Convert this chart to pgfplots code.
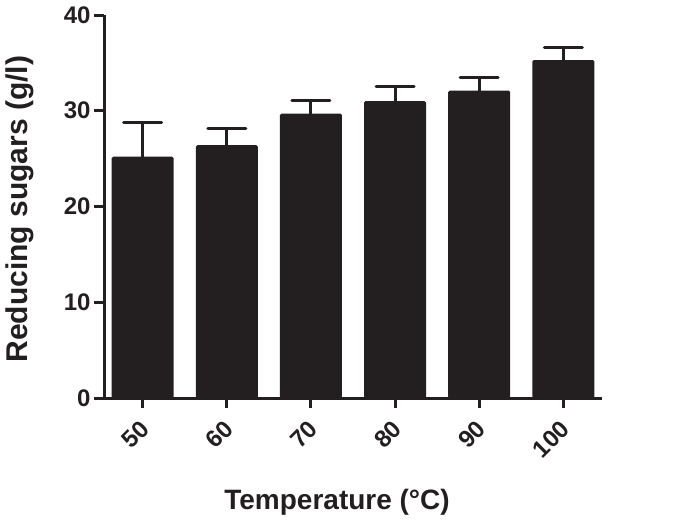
\documentclass[border=0pt]{standalone}
\usepackage{pgfplots}
\pgfplotsset{compat=1.18}
\usepackage{fontspec}
\setmainfont{Liberation Sans}
\definecolor{ink}{HTML}{231F20}
\begin{document}
\begin{tikzpicture}
\useasboundingbox (0,0) rectangle (685pt,525pt);
\begin{axis}[
  at={(104pt,127pt)}, anchor=south west,
  scale only axis, width=498pt, height=383pt,
  xmin=-0.46, xmax=5.46, ymin=0, ymax=40,
  axis x line*=bottom, axis y line*=left,
  axis line style={line width=3pt, ink},
  xtick={0,...,5}, xticklabels={50,60,70,80,90,100},
  ytick={0,10,20,30,40},
  tick align=outside, major tick length=10pt,
  tick style={line width=3pt, ink},
  /pgf/number format/assume math mode=true,
  tick label style={font=\fontsize{24}{24}\selectfont\bfseries, text=ink},
  xticklabel style={xshift=3pt, yshift=-16pt, rotate=45, anchor=east, inner sep=1pt},
  label style={font=\fontsize{28}{28}\selectfont\bfseries, text=ink},
  xlabel={Temperature (°C)},
  ylabel={\fontsize{30}{30}\selectfont Reducing sugars (g/l)},
  xlabel style={at={(axis description cs:0.468,-0.272)}, anchor=center},
  ylabel style={at={(axis description cs:-0.17,0.493)}, anchor=center},
  ybar, bar width=62pt,
]
\addplot[fill=ink, draw=none, rounded corners=1.5pt,
  error bars/.cd, y dir=plus, y explicit,
  error bar style={line width=3pt, ink, sharp corners},
  error mark=-, error mark options={rotate=90, line width=3pt, mark size=19pt, ink, line cap=round}]
  table[x=x, y=y, y error=e] {
x y e
0 25.2 3.6
1 26.4 1.7
2 29.7 1.4
3 31.0 1.5
4 32.1 1.35
5 35.3 1.3
};
\end{axis}
\end{tikzpicture}
\end{document}
